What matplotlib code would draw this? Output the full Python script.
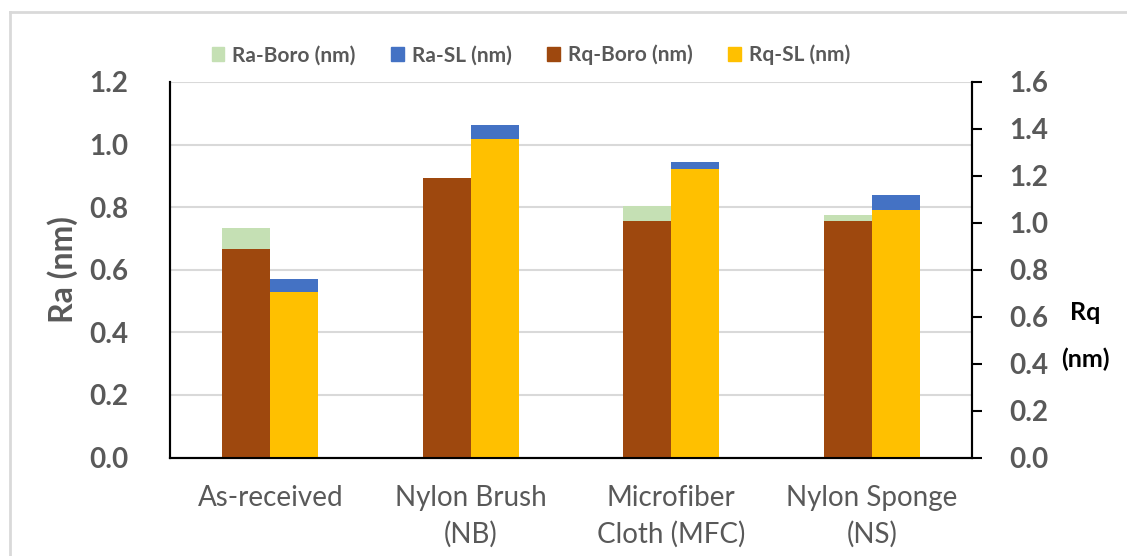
import numpy as np
import matplotlib
matplotlib.use("Agg")
import matplotlib.pyplot as plt
from matplotlib.patches import Patch
from matplotlib.lines import Line2D

categories = ["As-received", "Nylon Brush\n(NB)", "Microfiber\nCloth (MFC)", "Nylon Sponge\n(NS)"]
ra_boro = [0.733, 0.86, 0.805, 0.776]
ra_sl = [0.571, 1.062, 0.943, 0.838]
rq_boro = [0.888, 1.19, 1.009, 1.009]
rq_sl = [0.707, 1.359, 1.228, 1.053]

plt.rcParams['font.family'] = ['Lato', 'DejaVu Sans']
gray = '#595959'
c_ra_boro, c_ra_sl, c_rq_boro, c_rq_sl = '#C5E0B4', '#4472C4', '#9E480E', '#FFC000'

fig = plt.figure(figsize=(11.27, 5.56), dpi=100)
ax = fig.add_axes([170 / 1127, 1 - 457.5 / 556, 802 / 1127, 375.5 / 556])
ax2 = ax.twinx()

x = np.arange(len(categories))
w = 0.24
ax.bar(x - w / 2, ra_boro, w, color=c_ra_boro, zorder=2)
ax.bar(x + w / 2, ra_sl, w, color=c_ra_sl, zorder=2)
ax2.bar(x - w / 2, rq_boro, w, color=c_rq_boro, zorder=2)
ax2.bar(x + w / 2, rq_sl, w, color=c_rq_sl, zorder=2)

ax.set_xlim(-0.5, 3.5)
ax.set_ylim(0, 1.2)
ax2.set_ylim(0, 1.6)
ax.set_yticks(np.arange(0, 1.21, 0.2))
ax2.set_yticks(np.arange(0, 1.61, 0.2))
ax.set_yticklabels([f"{v:.1f}" for v in np.arange(0, 1.21, 0.2)])
ax2.set_yticklabels([f"{v:.1f}" for v in np.arange(0, 1.61, 0.2)])
ax.yaxis.grid(True, color='#d9d9d9', lw=1.5, zorder=0)
ax.set_axisbelow(True)

ax.set_xticks(x)
ax.set_xticklabels(categories, fontsize=20, color=gray, va='top', linespacing=1.45)
ax.tick_params(axis='x', length=0, pad=20)
ax.tick_params(axis='y', length=0, pad=30, labelsize=20, labelcolor=gray)
for lab in ax.get_yticklabels():
    lab.set_fontweight('bold')
ax2.tick_params(axis='y', length=7, width=1.5, direction='out', pad=20, labelsize=20, labelcolor=gray)
for lab in ax2.get_yticklabels():
    lab.set_fontweight('bold')

for a in (ax, ax2):
    a.spines['top'].set_visible(False)
    for s in ('left', 'right', 'bottom'):
        a.spines[s].set_color('black')
        a.spines[s].set_linewidth(1.5)

ax.set_ylabel("Ra (nm)", fontsize=23, fontweight='bold', color=gray, labelpad=8)
fig.text(1085 / 1127, 1 - 336 / 556, "Rq\n\n(nm)", fontsize=18, fontweight='bold',
         color='black', ha='center', va='center', linespacing=1.0)

handles = [Patch(color=c) for c in (c_ra_boro, c_ra_sl, c_rq_boro, c_rq_sl)]
labels = ["Ra-Boro (nm)", "Ra-SL (nm)", "Rq-Boro (nm)", "Rq-SL (nm)"]
leg = fig.legend(handles, labels, loc='center', bbox_to_anchor=(531 / 1127, 1 - 55 / 556), ncol=4,
                 frameon=False, fontsize=15, handlelength=0.6, handleheight=0.6,
                 handletextpad=0.4, columnspacing=1.7)
for t in leg.get_texts():
    t.set_color(gray)
    t.set_fontweight('bold')

fig.add_artist(Line2D([10 / 1127, 10 / 1127], [0, 1 - 12 / 556], color='#d9d9d9', lw=2))
fig.add_artist(Line2D([10 / 1127, 1], [1 - 12 / 556, 1 - 12 / 556], color='#d9d9d9', lw=2))

fig.savefig("out.png", dpi=100)
